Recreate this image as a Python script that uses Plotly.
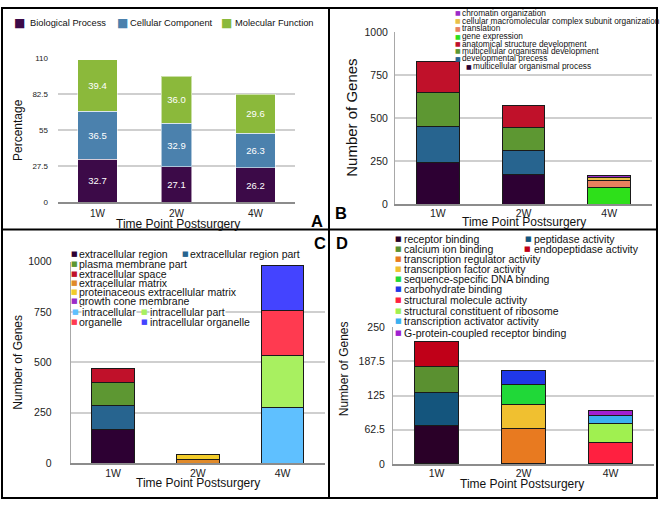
import plotly.graph_objects as go

W, H = 661, 508
FONT = "Liberation Sans, Arial, Helvetica, sans-serif"

weeks = ["1W", "2W", "4W"]

# ---------------- Panel A : percentage of GO categories ----------------
a_names = ["Biological Process", "Cellular Component", "Molecular Function"]
a_biological_process = [32.7, 27.1, 26.2]
a_cellular_component = [36.5, 32.9, 26.3]
a_molecular_function = [39.4, 36.0, 29.6]
a_tickvals = [0, 27.5, 55, 82.5, 110]
a_ticktext = ["0", "27.5", "55", "82.5", "110"]

# ---------------- Panel B : biological process terms ----------------
b_names = [
    "multicellular organismal process",
    "developmental precess",
    "multicellular organismal development",
    "anatomical structure development",
    "gene expression",
    "translation",
    "cellular macromolecular complex subunit organization",
    "chromatin organization",
]
b_multicellular_organismal_process = [242, 170, None]
b_developmental_process = [209, 142, None]
b_multicellular_organismal_development = [201, 137, None]
b_anatomical_structure_development = [178, 123, None]
b_gene_expression = [None, None, 96]
b_translation = [None, None, 40]
b_macromolecular_complex_organization = [None, None, 18]
b_chromatin_organization = [None, None, 13]
b_tickvals = [0, 250, 500, 750, 1000]

# ---------------- Panel C : cellular component terms ----------------
c_names = [
    "extracellular region",
    "extracellular region part",
    "plasma membrane part",
    "extracellular space",
    "extracellular matrix",
    "proteinaceous extracellular matrix",
    "growth cone membrane",
    "intracellular",
    "intracellular part",
    "organelle",
    "intracellular organelle",
]
c_extracellular_region = [166, None, None]
c_extracellular_region_part = [119, None, None]
c_plasma_membrane_part = [115, None, None]
c_extracellular_space = [71, None, None]
c_extracellular_matrix = [None, 18, None]
c_proteinaceous_extracellular_matrix = [None, 24, None]
c_growth_cone_membrane = [None, 1, None]
c_intracellular = [None, None, 274]
c_intracellular_part = [None, None, 258]
c_organelle = [None, None, 223]
c_intracellular_organelle = [None, None, 224]
c_tickvals = [0, 250, 500, 750, 1000]

# ---------------- Panel D : molecular function terms ----------------
d_names = [
    "receptor binding",
    "peptidase activity",
    "calcium ion binding",
    "endopeptidase activity",
    "transcription regulator activity",
    "transcription factor activity",
    "sequence-specific DNA binding",
    "carbohydrate binding",
    "structural molecule activity",
    "structural constituent of ribosome",
    "transcription activator activity",
    "G-protein-coupled receptor binding",
]
d_receptor_binding = [71, None, None]
d_peptidase_activity = [60, None, None]
d_calcium_ion_binding = [48, None, None]
d_endopeptidase_activity = [45, None, None]
d_transcription_regulator_activity = [None, 65, None]
d_transcription_factor_activity = [None, 43, None]
d_sequence_specific_dna_binding = [None, 38, None]
d_carbohydrate_binding = [None, 25, None]
d_structural_molecule_activity = [None, None, 39]
d_structural_constituent_of_ribosome = [None, None, 35]
d_transcription_activator_activity = [None, None, 14]
d_gpcr_binding = [None, None, 10]
d_tickvals = [0, 62.5, 125, 187.5, 250]
d_ticktext = ["0", "62.5", "125", "187.5", "250"]

# ---------------- styles ----------------
a_colors = ["#3c0a48", "#4b81ad", "#8bb93b"]
b_colors = ["#2d0033", "#27648f", "#5d9732", "#c0112a", "#2ee01a", "#e8805e", "#e8c048", "#9b2bc8"]
c_colors = ["#2d0033", "#27648f", "#5d9732", "#c0112a", "#e08a2a", "#f2cc2a", "#9b2bc8",
            "#5fc0ff", "#a8f060", "#ff3a50", "#4444ff"]
d_colors = ["#2a0028", "#14557d", "#5a9030", "#c00018", "#e87a20", "#f0c030", "#20d838",
            "#2038e8", "#ff2040", "#a0f050", "#3ab0f0", "#a020d0"]

fig = go.Figure()


def add_stack(names, series, colors, xa, ya, line_color, line_width, widths, text=False):
    for name, vals, col in zip(names, series, colors):
        extra = {}
        if text:
            extra = dict(texttemplate="%{y:.1f}", textposition="inside",
                         insidetextanchor="middle",
                         textfont=dict(color="white", size=9.5, family=FONT))
        fig.add_trace(go.Bar(
            x=weeks, y=vals, name=name, width=widths,
            marker=dict(color=col, line=dict(color=line_color, width=line_width)),
            xaxis=xa, yaxis=ya, showlegend=False, hoverinfo="skip", **extra))


add_stack(a_names, [a_biological_process, a_cellular_component, a_molecular_function],
          a_colors, "x", "y", "rgba(255,255,255,0.55)", 1, [0.5, 0.38, 0.5], text=True)
add_stack(b_names, [b_multicellular_organismal_process, b_developmental_process,
                    b_multicellular_organismal_development, b_anatomical_structure_development,
                    b_gene_expression, b_translation, b_macromolecular_complex_organization,
                    b_chromatin_organization],
          b_colors, "x2", "y2", "#1a1a1a", 1, 0.5)
add_stack(c_names, [c_extracellular_region, c_extracellular_region_part, c_plasma_membrane_part,
                    c_extracellular_space, c_extracellular_matrix,
                    c_proteinaceous_extracellular_matrix, c_growth_cone_membrane,
                    c_intracellular, c_intracellular_part, c_organelle, c_intracellular_organelle],
          c_colors, "x3", "y3", "#1a1a1a", 1, 0.5)
add_stack(d_names, [d_receptor_binding, d_peptidase_activity, d_calcium_ion_binding,
                    d_endopeptidase_activity, d_transcription_regulator_activity,
                    d_transcription_factor_activity, d_sequence_specific_dna_binding,
                    d_carbohydrate_binding, d_structural_molecule_activity,
                    d_structural_constituent_of_ribosome, d_transcription_activator_activity,
                    d_gpcr_binding],
          d_colors, "x4", "y4", "#1a1a1a", 1, 0.5)


def px(x):
    return x / W


def py(y):
    return 1 - y / H


def xaxis_cfg(x0, x1, anchor, standoff, size):
    return dict(domain=[px(x0), px(x1)], anchor=anchor, type="category",
                showline=True, linecolor="#8c8c8c", linewidth=1.5, showgrid=False,
                zeroline=False, ticks="", ticklen=0, ticklabelstandoff=standoff,
                tickfont=dict(size=size, color="#222", family=FONT), fixedrange=True)


def yaxis_cfg(ytop, ybot, anchor, rng, tickvals, ticktext, standoff, size, line):
    return dict(domain=[py(ybot), py(ytop)], anchor=anchor, range=rng,
                tickmode="array", tickvals=tickvals, ticktext=ticktext,
                showgrid=True, gridcolor="#cfcfcf", gridwidth=1.5, zeroline=False,
                showline=line, linecolor="#a8a8a8", linewidth=1, ticks="", ticklen=0,
                ticklabelstandoff=standoff,
                tickfont=dict(size=size, color="#222", family=FONT), fixedrange=True)


annotations = []


def text(x, y, s, size, anchor="center", angle=0, bold=False, color="#111", bg=None):
    d = dict(x=px(x), y=py(y), xref="paper", yref="paper", text=("<b>%s</b>" % s) if bold else s,
             showarrow=False, xanchor=anchor, yanchor="middle", textangle=angle,
             font=dict(size=size, color=color, family=FONT), borderpad=0)
    if bg:
        d["bgcolor"] = bg
    annotations.append(d)


def legend_item(name, color, sx, tx, y, size, sq, bg=None):
    annotations.append(dict(x=px(sx), y=py(y), xref="paper", yref="paper", text="■",
                            showarrow=False, xanchor="center", yanchor="middle",
                            font=dict(size=sq, color=color, family="DejaVu Sans"), borderpad=0))
    text(tx, y, name, size, anchor="left", bg=bg)


# Panel A legend
for name, col, sx, tx in zip(a_names, a_colors, [19, 122.5, 226.5], [29, 129, 234]):
    legend_item(name, col, sx, tx, 17, 9.3, 12)

# Panel B legend (top to bottom = reversed stack order)
b_rows = [6.7, 15, 23, 31, 38.7, 46, 53.5, 61.7]
for i, (name, col) in enumerate(zip(b_names[::-1], b_colors[::-1])):
    sx, tx = (458, 461) if i < 7 else (468.5, 472)
    legend_item(name, col, sx, tx, b_rows[i], 8.3, 6)

# Panel C legend
c_layout = {
    "extracellular region": (74, 78, 254),
    "extracellular region part": (185, 189, 254),
    "plasma membrane part": (74, 78, 264),
    "extracellular space": (74, 78, 274),
    "extracellular matrix": (74, 78, 283.3),
    "proteinaceous extracellular matrix": (74, 78, 292.5),
    "growth cone membrane": (74, 78, 302.3),
    "intracellular": (75.3, 80.5, 313.3),
    "intracellular part": (144, 149, 313.3),
    "organelle": (74.3, 78, 323.3),
    "intracellular organelle": (144, 149, 323.3),
}
for name, col in zip(c_names, c_colors):
    sx, tx, y = c_layout[name]
    legend_item(name, col, sx, tx, y, 10.5, 7,
                bg="white" if name in ("intracellular", "intracellular part") else None)

# Panel D legend
d_layout = {
    "receptor binding": (398.5, 403, 238.7),
    "peptidase activity": (528.5, 533, 238.7),
    "calcium ion binding": (398.5, 403, 248.7),
    "endopeptidase activity": (527.5, 533, 248.7),
    "transcription regulator activity": (398, 403, 259.3),
    "transcription factor activity": (398, 403, 269.5),
    "sequence-specific DNA binding": (398, 403, 280),
    "carbohydrate binding": (398, 403, 290.3),
    "structural molecule activity": (398, 403, 301),
    "structural constituent of ribosome": (398, 403, 312),
    "transcription activator activity": (398, 403, 322.3),
    "G-protein-coupled receptor binding": (398, 403, 334.5),
}
for name, col in zip(d_names, d_colors):
    sx, tx, y = d_layout[name]
    legend_item(name, col, sx, tx, y, 10.5, 7)

# axis titles
text(18, 127, "Percentage", 12, angle=-90)
text(178, 223, "Time Point Postsurgery", 12)
text(351.5, 115, "Number of Genes", 15, angle=-90)
text(524, 221.5, "Time Point Postsurgery", 12)
text(18.3, 365, "Number of Genes", 12, angle=-90)
text(198, 489, "Time Point Postsurgery", 12)
text(343.5, 371.5, "Number of Genes", 12, angle=-90)
text(521.5, 490, "Time Point Postsurgery", 12)

# panel letters
text(316.5, 220, "A", 16.5, bold=True, color="#000")
text(340.5, 212, "B", 16.5, bold=True, color="#000")
text(320, 243, "C", 16.5, bold=True, color="#000")
text(341.5, 243, "D", 16.5, bold=True, color="#000")

# panel borders
border = dict(color="#000", width=2)
shapes = [
    dict(type="rect", xref="paper", yref="paper", x0=px(2), x1=px(657), y0=py(504), y1=py(2),
         line=border, layer="above"),
    dict(type="line", xref="paper", yref="paper", x0=px(329), x1=px(329), y0=py(504), y1=py(2),
         line=border, layer="above"),
    dict(type="line", xref="paper", yref="paper", x0=px(2), x1=px(657), y0=py(229), y1=py(229),
         line=border, layer="above"),
]

fig.update_layout(
    width=W, height=H, margin=dict(l=0, r=0, t=0, b=0),
    paper_bgcolor="white", plot_bgcolor="white",
    barmode="stack", showlegend=False,
    font=dict(family=FONT, color="#222"),
    xaxis=xaxis_cfg(58, 295, "y", 1, 10),
    yaxis=yaxis_cfg(53, 201, "x", [0, 110], a_tickvals, a_ticktext, 9, 8, False),
    xaxis2=xaxis_cfg(395, 652, "y2", -2, 10.5),
    yaxis2=yaxis_cfg(27, 203, "x2", [0, 1000], b_tickvals, [str(v) for v in b_tickvals], 4, 10.5, True),
    xaxis3=xaxis_cfg(70.7, 325, "y3", -1, 10.5),
    yaxis3=yaxis_cfg(261.7, 468.3, "x3", [0, 1000], c_tickvals, [str(v) for v in c_tickvals], 16, 10.5, True),
    xaxis4=xaxis_cfg(393, 654, "y4", -1, 10.5),
    yaxis4=yaxis_cfg(329, 469, "x4", [0, 250], d_tickvals, d_ticktext, 5, 10.5, True),
    annotations=annotations,
    shapes=shapes,
)

fig.write_html("out.html", config={"responsive": False, "displayModeBar": False},
               post_script="document.body.style.margin='0';document.body.style.padding='0';"
                           "document.body.style.overflow='hidden';")
